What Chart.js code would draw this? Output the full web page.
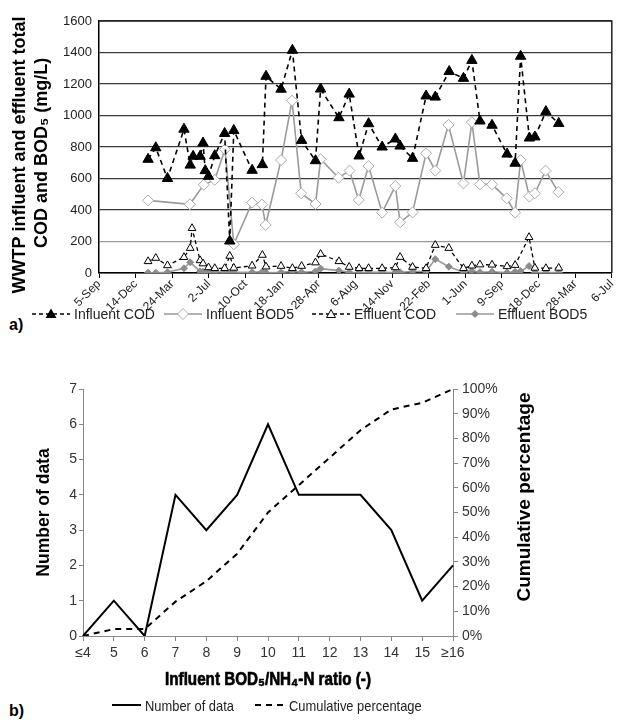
<!DOCTYPE html>
<html><head><meta charset="utf-8">
<script src="https://cdn.jsdelivr.net/npm/chart.js@4.4.1/dist/chart.umd.min.js"></script>
<style>
html,body{margin:0;padding:0;background:#fff;}
body{width:621px;height:720px;position:relative;overflow:hidden;font-family:"Liberation Sans",Arial,sans-serif;}
canvas{position:absolute;left:0;}
#c1{top:0;}
#c2{top:360px;}
.lg{position:absolute;font-size:14px;color:#222;white-space:nowrap;display:flex;align-items:center;height:16px;}
.lg svg{margin-right:4px;}
.nar span{display:inline-block;font-size:15px;transform:scaleX(0.86);transform-origin:left center;}
.lab{position:absolute;font-weight:bold;font-size:16px;color:#000;}
</style></head><body>
<canvas id="c1" width="621" height="312"></canvas>
<canvas id="c2" width="621" height="340"></canvas>

<div class="lab" style="left:9px;top:316px;">a)</div>
<div class="lg" style="left:32px;top:306px;"><svg width="38" height="14"><line x1="0" y1="7" x2="38" y2="7" stroke="#000" stroke-width="1.5" stroke-dasharray="4,3"/><polygon points="19,1.5 24.5,11 13.5,11" fill="#000"/></svg><span>Influent COD</span></div>
<div class="lg" style="left:164px;top:306px;"><svg width="38" height="14"><line x1="0" y1="7" x2="38" y2="7" stroke="#999" stroke-width="1.5"/><polygon points="19,1.5 24.5,7 19,12.5 13.5,7" fill="#fff" stroke="#aaa" stroke-width="1"/></svg><span>Influent BOD5</span></div>
<div class="lg" style="left:312px;top:306px;"><svg width="38" height="14"><line x1="0" y1="7" x2="38" y2="7" stroke="#000" stroke-width="1.3" stroke-dasharray="4,3"/><polygon points="19,2.5 23.5,10.5 14.5,10.5" fill="#fff" stroke="#000" stroke-width="1"/></svg><span>Effluent COD</span></div>
<div class="lg" style="left:456px;top:306px;"><svg width="38" height="14"><line x1="0" y1="7" x2="38" y2="7" stroke="#999" stroke-width="1.5"/><polygon points="19,3 23,7 19,11 15,7" fill="#8c8c8c"/></svg><span>Effluent BOD5</span></div>

<div class="lab" style="left:9px;top:702px;">b)</div>
<div class="lg nar" style="left:112px;top:697px;"><svg width="29" height="14"><line x1="0" y1="7" x2="29" y2="7" stroke="#000" stroke-width="2"/></svg><span>Number of data</span></div>
<div class="lg nar" style="left:255px;top:697px;"><svg width="30" height="14"><line x1="0" y1="7" x2="30" y2="7" stroke="#000" stroke-width="2" stroke-dasharray="6,5"/></svg><span>Cumulative percentage</span></div>

<script>
// ---------- Panel a) data ----------
const dateTickLabels = ['5-Sep','14-Dec','24-Mar','2-Jul','10-Oct','18-Jan','28-Apr','6-Aug','14-Nov','22-Feb','1-Jun','9-Sep','18-Dec','28-Mar','6-Jul'];
// days counted from 5-Sep (first axis tick)
const infCodDays = [134,155,187,232,249,257,276,284,290,299,316,343,357,368,418,446,456,497,528,553,591,605,655,683,710,736,773,809,822,856,893,918,956,995,1018,1040,1073,1114,1136,1151,1175,1190,1220,1255];
const infCodValues = [722,795,600,913,685,741,741,825,650,614,745,886,203,905,652,688,1249,1167,1414,842,713,1168,986,1136,743,948,800,851,806,728,1124,1117,1279,1236,1350,965,938,755,697,1376,857,864,1025,950];

const infBodDays = [134,248,286,316,344,368,418,445,455,497,527,552,591,605,654,684,709,736,773,809,822,856,893,918,954,995,1018,1040,1073,1113,1136,1151,1175,1190,1219,1254];
const infBodValues = [461,436,560,591,785,182,447,434,305,717,1094,506,438,722,605,650,463,679,383,552,322,385,760,650,940,569,958,563,563,474,383,717,485,506,650,514];

const effCodDays = [134,155,187,232,249,254,276,284,299,316,343,357,368,418,446,456,497,528,553,591,605,655,683,710,736,773,809,822,856,893,918,955,995,1018,1040,1073,1114,1136,1174,1190,1220,1255];
const effCodValues = [74,95,48,100,158,284,80,60,35,30,30,108,32,46,114,40,44,30,44,66,120,74,38,30,30,30,35,101,38,30,177,158,30,46,53,52,42,50,227,32,30,32];

const effBodDays = [134,155,187,232,249,276,284,299,316,343,357,368,418,446,456,497,528,553,591,605,655,683,710,736,773,809,822,856,893,918,955,995,1018,1040,1073,1114,1136,1151,1174,1190,1220,1255];
const effBodValues = [2,2,5,30,68,10,8,5,8,5,2,5,5,8,2,5,10,5,10,28,15,5,3,5,5,3,5,10,10,88,40,5,12,5,8,3,8,12,44,3,3,3];

// ---------- Panel b) data ----------
const ratioLabels = ['\u22644','5','6','7','8','9','10','11','12','13','14','15','\u226516'];
const numberOfData = [0,1,0,4,3,4,6,4,4,4,3,1,2];
const cumulativePercentage = [0,2.8,2.8,13.9,22.2,33.3,50.0,61.1,72.2,83.3,91.7,94.4,100];

const FONT = '"Liberation Sans", Arial, sans-serif';
function pts(days, vals){ return days.map((d,i)=>({x:d, y:vals[i]})); }

const framePlugin = {
  id:'frame',
  afterDraw(chart, args, opts){
    if (!opts.on) return;
    const a = chart.chartArea, ctx = chart.ctx;
    ctx.save();
    ctx.strokeStyle = '#222'; ctx.lineWidth = 1.5;
    ctx.beginPath();
    ctx.moveTo(a.left, a.top); ctx.lineTo(a.right, a.top); ctx.lineTo(a.right, a.bottom);
    ctx.stroke();
    ctx.restore();
  }
};
// axis titles (vertical ones read bottom-to-top)
const axisText = {
  id:'axisText',
  afterDraw(chart, args, opts){
    const ctx = chart.ctx;
    (opts.items || []).forEach(it => {
      ctx.save();
      ctx.translate(it.x, it.y);
      if (it.rot) ctx.rotate(it.rot);
      if (it.sx) ctx.scale(it.sx, 1);
      ctx.font = it.font; ctx.fillStyle = '#000';
      ctx.textAlign = 'center'; ctx.textBaseline = 'middle';
      ctx.fillText(it.text, 0, 0);
      if (it.stroke) { ctx.strokeStyle = '#000'; ctx.lineWidth = it.stroke; ctx.strokeText(it.text, 0, 0); }
      ctx.restore();
    });
  }
};

new Chart(document.getElementById('c1'), {
  type:'line',
  data:{datasets:[
    {label:'Influent COD', data:pts(infCodDays, infCodValues), borderColor:'#000', borderWidth:1.6, borderDash:[5,4],
     pointStyle:'triangle', pointRadius:6, pointBackgroundColor:'#000', pointBorderColor:'#000', pointBorderWidth:1, tension:0},
    {label:'Influent BOD5', data:pts(infBodDays, infBodValues), borderColor:'#9a9a9a', borderWidth:1.6,
     pointStyle:'rectRot', pointRadius:5.5, pointBackgroundColor:'#fff', pointBorderColor:'#aaa', pointBorderWidth:1, tension:0},
    {label:'Effluent COD', data:pts(effCodDays, effCodValues), borderColor:'#000', borderWidth:1.3, borderDash:[4,3],
     pointStyle:'triangle', pointRadius:4.5, pointBackgroundColor:'#fff', pointBorderColor:'#000', pointBorderWidth:1, tension:0},
    {label:'Effluent BOD5', data:pts(effBodDays, effBodValues), borderColor:'#999', borderWidth:1.6,
     pointStyle:'rectRot', pointRadius:3.5, pointBackgroundColor:'#8c8c8c', pointBorderColor:'#8c8c8c', pointBorderWidth:1, tension:0}
  ]},
  options:{
    responsive:false, animation:false,
    layout:{padding:{left:0,right:8,top:21,bottom:0}},
    plugins:{legend:{display:false}, tooltip:{enabled:false}, frame:{on:true},
      axisText:{items:[
        {text:'WWTP influent and effluent total', x:20, y:155, rot:-Math.PI/2, font:'bold 18px '+FONT},
        {text:'COD and BOD\u2085 (mg/L)', x:42, y:153, rot:-Math.PI/2, font:'bold 18px '+FONT}
      ]}},
    scales:{
      x:{type:'linear', min:0, max:1400,
         ticks:{stepSize:100, autoSkip:false, maxRotation:45, minRotation:45, padding:-1,
                callback:(v)=>dateTickLabels[Math.round(v/100)], font:{size:12, family:FONT}, color:'#222'},
         grid:{drawOnChartArea:false, drawTicks:true, tickLength:5, color:'#000'},
         border:{color:'#000', width:1.5},
         afterFit:(s)=>{ s.height = 39; }},
      y:{min:0, max:1600,
         ticks:{stepSize:200, padding:7, callback:(v)=>String(v), font:{size:13, family:FONT}, color:'#222'},
         grid:{color:(c)=> (c.tick && c.tick.value===200) ? '#9a9a9a' : '#3a3a3a', lineWidth:1.2, drawTicks:false},
         border:{color:'#000', width:1.5},
         afterFit:(s)=>{ s.width = 99; }}
    }
  },
  plugins:[framePlugin, axisText]
});

new Chart(document.getElementById('c2'), {
  type:'line',
  data:{labels:ratioLabels, datasets:[
    {label:'Number of data', data:numberOfData, borderColor:'#000', borderWidth:2, pointRadius:0, tension:0, yAxisID:'y'},
    {label:'Cumulative percentage', data:cumulativePercentage, borderColor:'#000', borderWidth:2, borderDash:[6,5], pointRadius:0, tension:0, yAxisID:'y1'}
  ]},
  options:{
    responsive:false, animation:false,
    layout:{padding:{left:30,right:86,top:29,bottom:6}},
    plugins:{legend:{display:false}, tooltip:{enabled:false}, frame:{on:false},
      axisText:{items:[
        {text:'Cumulative percentage', x:525, y:137, rot:-Math.PI/2, font:'bold 19px '+FONT},
        {text:'Influent BOD\u2085/NH\u2084-N ratio (-)', x:268, y:320, sx:0.8, stroke:0.7, font:'bold 19px '+FONT}
      ]}},
    scales:{
      x:{offset:false,
         ticks:{font:{size:14, family:FONT}, color:'#333', padding:4, autoSkip:false, maxRotation:0},
         grid:{drawOnChartArea:false, tickLength:5, color:'#888'},
         border:{color:'#888'},
         afterFit:(s)=>{ s.height = 58; }},
      y:{position:'left', min:0, max:7,
         ticks:{stepSize:1, font:{size:14, family:FONT}, color:'#333', padding:2},
         grid:{drawOnChartArea:false, tickLength:4, color:'#888'},
         border:{color:'#888'},
         title:{display:true, text:'Number of data', color:'#000', font:{size:17.5, weight:'bold', family:FONT}, padding:{top:4,bottom:0}},
         afterFit:(s)=>{ s.width = 53; }},
      y1:{position:'right', min:0, max:100,
         ticks:{stepSize:10, callback:(v)=>v+'%', font:{size:14, family:FONT}, color:'#333', padding:4},
         grid:{drawOnChartArea:false, tickLength:5, color:'#888'},
         border:{color:'#888'},
         afterFit:(s)=>{ s.width = 82; }}
    }
  },
  plugins:[framePlugin, axisText]
});
</script>
</body></html>
